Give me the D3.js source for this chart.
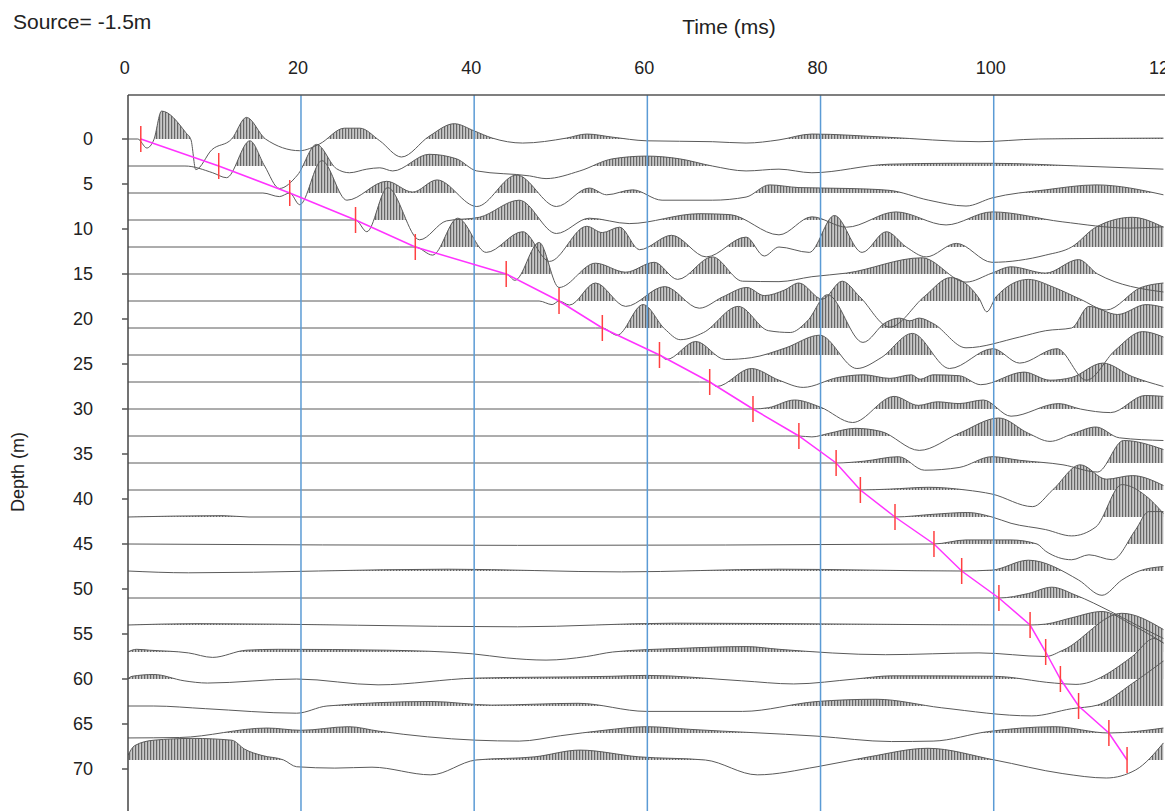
<!DOCTYPE html>
<html>
<head>
<meta charset="utf-8">
<script src="https://cdn.jsdelivr.net/npm/d3@7"></script>
<style>
  body { margin: 0; background: #fff; }
  text { font-family: Arial, "Liberation Sans", sans-serif; fill: #222; }
</style>
</head>
<body>
<svg id="chart" width="1165" height="811"></svg>
<script>
// Axis ticks
const timeTicks = [0, 20, 40, 60, 80, 100, 120];
const depthTicks = [0, 5, 10, 15, 20, 25, 30, 35, 40, 45, 50, 55, 60, 65, 70];

// Receiver depths (m), one trace each
const traceDepths = [0, 3, 6, 9, 12, 15, 18, 21, 24, 27, 30, 33, 36, 39, 42, 45, 48, 51, 54, 57, 60, 63, 66, 69];

// First-break picks (ms) for each receiver
const pickTimes = [1.5, 10.5, 18.7, 26.3, 33.2, 43.7, 49.8, 54.8, 61.4, 67.2, 72.2, 77.5, 81.8, 84.6, 88.6, 93.1, 96.3, 100.6, 104.2, 106.0, 107.7, 109.8, 113.3, 115.4];

// Wiggle traces: [time ms, amplitude in m of trace offset, positive up]
const trace00 = [[0,0],[1.15,0],[2.2,-1.0],[3.0,-0.1],[3.9,3.1],[6.7,0.7],[7.3,-0.1],[7.85,-3.4],[9.7,-1.2],[12.0,0],[13.7,2.4],[15.9,0],[19.85,-1.3],[22.15,-0.55],[25.0,1.2],[26.8,1.2],[29.1,-0.2],[31.6,-2.0],[34.8,0.3],[37.7,1.7],[40.0,0.9],[42.1,0.1],[45.6,-0.45],[50.65,0.1],[53.0,0.55],[56,0.2],[59.9,-0.2],[67.5,-0.3],[71.4,-0.45],[75.2,-0.1],[79,0.55],[87.6,0.2],[98.3,-0.3],[105.2,0],[119.6,0.1]];
const trace01 = [[0,0],[6.6,0],[9.8,-0.75],[11.4,-1.3],[14.1,2.8],[15.8,0],[17.5,-2.5],[19.6,-1.0],[21.8,2.4],[24.1,-0.3],[25.6,-0.75],[27.6,-0.35],[29.1,-0.2],[30.6,-0.55],[34.8,1.3],[37.95,0.8],[40.3,-0.55],[46.4,-1.1],[48.3,-1.4],[52.2,-0.55],[56,0.8],[59.9,1.1],[63.7,0.8],[67.5,0],[71.4,-0.55],[75.2,-0.35],[79,-0.75],[87.9,0.2],[95.2,0.3],[99.8,0.3],[109.8,0],[119.6,-0.35]];
const trace02 = [[0,0],[15.6,0],[17.5,-0.4],[18.7,0],[19.85,-1.3],[22.4,3.6],[25.3,-0.8],[29.9,1.3],[32.9,0.1],[35.7,1.45],[40.3,-1.5],[44.9,2.0],[49.5,-1.5],[53.3,0.55],[55.3,-0.2],[58.3,0.35],[61.7,-0.8],[67.5,-0.8],[71.4,-0.45],[74.1,0.9],[77.5,0.6],[83.3,0.5],[87.9,0.3],[92.5,-0.8],[96.8,-1.45],[99.8,-0.55],[106,0.35],[111.8,0.9],[119.6,-0.2]];
const trace03 = [[0,0],[24.5,0],[26.3,0],[27.6,-1.3],[30,3.6],[33.7,-2.2],[36.8,-0.1],[40.6,0.3],[45.2,2.2],[49.5,-1.5],[53.3,0.2],[57.9,-0.4],[66,0.7],[69.5,0.6],[75.2,-1.65],[79,0.35],[83,-0.8],[88.7,0.9],[94.5,-0.55],[99.8,0.9],[107.9,-0.2],[115.6,-0.9],[119.6,-0.75]];
const trace04 = [[0,0],[31.4,0],[33.2,0],[35.2,-0.9],[38.1,3.2],[41.4,-0.6],[45.6,1.7],[48.7,-1.6],[53,2.3],[54.8,1.6],[56.8,2.2],[59.1,-0.3],[62.8,1.3],[66.8,-1.1],[71.4,1.1],[73.5,-1.0],[75.2,0],[78.7,-0.6],[81.6,3.5],[84.8,-0.6],[87.6,1.7],[89.9,0],[92.2,-1.1],[95.7,0.4],[99.8,-1.7],[106,-0.9],[109,0],[111.8,2.2],[116,3.3],[119.6,2.2]];
const trace05 = [[0,0],[42.9,0],[43.7,0],[44.7,-0.7],[47.5,3.5],[49.8,-1.5],[54,1.2],[57.5,0.2],[60.8,1.3],[63.5,-0.6],[67.5,1.9],[71,-0.8],[75.2,-0.85],[79,-0.3],[83,0.1],[91.7,1.8],[96.8,-0.9],[99.8,0.1],[102,0.8],[106,0.1],[109.8,1.6],[112,0],[119.6,-2.0]];
const trace06 = [[0,0],[47.5,0],[49,-0.4],[49.8,0],[51,-0.45],[54,2.0],[57.5,-0.6],[62,1.6],[66,-0.8],[68.7,0.45],[71.5,1.5],[73.5,0.6],[75.8,1.2],[77.5,2.0],[80.2,0.2],[82.5,2.2],[84.5,0.5],[88,-2.9],[92,0.5],[95,2.6],[98.3,0.3],[99.2,-1.2],[100.3,0.5],[104,2.4],[107,1.5],[110,0.2],[113,-1.0],[117,1.5],[119.6,2.0]];
const trace07 = [[0,0],[54,0],[54.8,0],[56.5,-0.8],[59.5,2.6],[62,-0.1],[63.8,-1.3],[66.5,-0.5],[70.5,2.4],[74,-0.3],[76.5,-0.5],[78.5,0.8],[80.8,3.7],[84.9,-1.6],[87.5,0.6],[89.1,1.1],[90.3,0.8],[91.4,1.1],[93,0.5],[96.8,-2.2],[103,-1.0],[106,-0.3],[109,0],[111,2.4],[114.3,1.5],[117.6,2.6],[119.6,2.3]];
const trace08 = [[0,0],[60,0],[61.4,0],[62.2,-0.5],[65.6,1.5],[69,-0.5],[72,-0.3],[76,0.8],[79.9,2.2],[84.2,-1.5],[87,-0.3],[90.6,2.4],[94.9,-1.5],[99.9,0.7],[103,-0.9],[107.3,0.7],[110.7,-2.8],[114,0.5],[117.2,2.6],[119.6,2.0]];
const trace09 = [[0,0],[66,0],[67.2,0],[68,-0.5],[72,1.5],[75.2,0.2],[78,-0.6],[82,0.5],[85,0.8],[88,0.4],[90.5,0.8],[91.5,0.3],[93,0.8],[96,0.7],[98.5,-0.3],[103.5,1.1],[106.5,0.2],[109,0.5],[112.6,2.1],[116,0.6],[119.6,-0.5]];
const trace10 = [[0,0],[71,0],[72.2,0],[74,0.15],[77,1.0],[80,0.2],[83.7,-1.5],[88.5,1.4],[91.3,0.4],[93.5,0.8],[96,0.6],[98.8,1.0],[102,-0.8],[107.5,0.6],[110,0],[113.5,-0.4],[117.5,1.5],[119.6,1.4]];
const trace11 = [[0,0],[76,0],[77.5,0],[79,-0.1],[81,0.3],[84,0.85],[87,0.5],[91.4,-1.6],[96,0.3],[100.6,2.0],[104,0.3],[106.5,-0.6],[109,0.2],[111.8,1.0],[114.5,-0.2],[119.6,-0.5]];
const trace12 = [[0,0],[80,0],[81.8,0],[85,0.2],[89,0.7],[92,-0.8],[96,-0.5],[99.8,0.7],[103,0.3],[108,-0.2],[112,-1.0],[115,2.5],[119.6,1.5]];
const trace13 = [[0,0],[84.6,0],[88,0.1],[92.5,0.3],[96.8,0],[99.8,-0.45],[104.5,-1.85],[106.8,0],[110,2.8],[113,1.2],[116,1.6],[119.6,0.5]];
const trace14 = [[0,0],[11,0.15],[14,0],[88.6,0],[93,0.3],[97,0.5],[99.8,0],[102,-0.7],[106,-1.4],[109,-2.1],[111.8,-1.1],[114.8,3.6],[117.5,2.4],[119.6,0.4]];
const trace15 = [[0,0],[45,-0.15],[93.1,0],[96.8,0.45],[102,0.45],[105,0],[106,-0.8],[109,-1.75],[111,-1.2],[113.7,-1.75],[116.4,1.6],[117.9,3.6],[119.6,3.6]];
const trace16 = [[0,0],[7,-0.2],[37,0.2],[57,-0.1],[75.2,0.2],[96.3,0],[99.8,0.1],[104,1.2],[109.8,-1.0],[112.5,-2.7],[114.8,-1.0],[116.8,0],[119.6,0.5]];
const trace17 = [[0,0],[100.6,0],[104,0.5],[106.7,1.2],[109.5,0.3],[113.5,-1.5],[116.5,-3.0],[119.6,-4.5]];
const trace18 = [[0,0],[8,0.15],[45,-0.2],[63,0.2],[104.2,0],[106,0.1],[109,0.8],[112.5,1.5],[116,0],[119.6,-2.0]];
const trace19 = [[0,0],[1,0.3],[2.5,0.2],[7,-0.1],[9.8,-0.6],[13.7,0.2],[17.4,0.3],[29.9,0.2],[39.8,-0.2],[43.7,-0.65],[48.3,-0.9],[53,-0.5],[56,0],[63.7,0.4],[71.4,0.6],[75.2,0.3],[87.5,-0.3],[98.3,-0.1],[106,-0.5],[108,0.2],[114.8,4.3],[119.6,2.5]];
const trace20 = [[0,0],[0.5,0.3],[3.0,0.5],[6.5,-0.2],[9.2,-0.45],[19.5,0],[28.9,-0.65],[40.2,0.1],[55.9,0.3],[59.9,0.4],[70.9,-0.2],[76.9,-0.55],[84,0],[88.2,0.35],[100,0.3],[107,-0.45],[109.5,-0.6],[116,2.5],[118.5,4.5],[119.6,4.0]];
const trace21 = [[0,0],[3,0],[9,-0.3],[19.5,-0.8],[23,0],[35,0.5],[42,0.1],[52,0.3],[59.9,-0.6],[71,-0.6],[79.6,0.5],[86.4,0.75],[94,-0.2],[104.4,-1.1],[109,-0.3],[112,0.1],[116,2.5],[119.6,5.0]];
const trace22 = [[0,-0.55],[6,-0.5],[16.1,0.55],[20,0.3],[25.5,0.7],[29,0.2],[40.2,-0.8],[45.2,-0.9],[50,-0.3],[55,0.3],[59.9,0.7],[65,0.4],[79.6,-0.35],[88.2,-0.95],[93,-0.9],[99.3,0.15],[107,0.7],[113.3,0],[119.6,0.55]];
const trace23 = [[0,0.5],[0.8,1.6],[3,2.2],[7.5,2.4],[12,2.2],[13.5,1.2],[15.5,0.5],[18,0],[19.5,-0.75],[23.9,-0.9],[28.2,-0.8],[35,-1.65],[40.2,0],[47,0.35],[52.2,1.1],[59,0.35],[66.7,0],[72.7,-1.65],[79.6,-0.75],[85.6,0.35],[92.4,1.3],[100.1,0],[107.9,-1.5],[113,-2.0],[116.4,-1.1],[119.6,1.9]];

const traces = [trace00, trace01, trace02, trace03, trace04, trace05, trace06, trace07,
  trace08, trace09, trace10, trace11, trace12, trace13, trace14, trace15,
  trace16, trace17, trace18, trace19, trace20, trace21, trace22, trace23];

const W = 1165, H = 811;
const plotLeft = 128, plotTop = 95;
const svg = d3.select("#chart");

const x = d3.scaleLinear().domain([0, 120]).range([127.8, 1166.9]);
const y = d3.scaleLinear().domain([0, 70]).range([139, 769]);

const defs = svg.append("defs");
const hatch = defs.append("pattern")
  .attr("id", "hatch").attr("patternUnits", "userSpaceOnUse")
  .attr("width", 3).attr("height", 8);
hatch.append("rect").attr("width", 3).attr("height", 8).attr("fill", "#c8c8c8");
hatch.append("rect").attr("width", 1.2).attr("height", 8).attr("fill", "#666");

defs.append("clipPath").attr("id", "plotClip")
  .append("rect").attr("x", plotLeft).attr("y", plotTop)
  .attr("width", W - plotLeft).attr("height", H - plotTop);

traces.forEach((tr, i) => {
  defs.append("clipPath").attr("id", "pos" + i)
    .append("rect").attr("x", plotLeft).attr("y", 0)
    .attr("width", W - plotLeft).attr("height", y(traceDepths[i]));
});

const plot = svg.append("g").attr("clip-path", "url(#plotClip)");

// positive lobes: hatched fill between the trace and its zero line
const fills = plot.append("g");
traces.forEach((tr, i) => {
  const d0 = traceDepths[i];
  const area = d3.area()
    .x(d => x(d[0]))
    .y0(y(d0))
    .y1(d => y(d0 - d[1]))
    .curve(d3.curveMonotoneX);
  fills.append("g").attr("clip-path", "url(#pos" + i + ")")
    .append("path").attr("d", area(tr)).attr("fill", "url(#hatch)");
});

// wiggle lines
const lines = plot.append("g");
traces.forEach((tr, i) => {
  const d0 = traceDepths[i];
  const line = d3.line()
    .x(d => x(d[0]))
    .y(d => y(d0 - d[1]))
    .curve(d3.curveMonotoneX);
  lines.append("path").attr("d", line(tr))
    .attr("fill", "none").attr("stroke", "#5a5a5a").attr("stroke-width", 1);
});

// vertical time grid
plot.append("g").selectAll("line")
  .data(timeTicks.filter(t => t > 0 && t < 120))
  .join("line")
  .attr("x1", d => x(d)).attr("x2", d => x(d))
  .attr("y1", plotTop).attr("y2", H)
  .attr("stroke", "#5b9bd5").attr("stroke-width", 1.5);

// first-break curve and picks
const pickPts = pickTimes.map((t, i) => [t, traceDepths[i]]);
plot.append("path")
  .attr("d", d3.line().x(d => x(d[0])).y(d => y(d[1]))(pickPts))
  .attr("fill", "none").attr("stroke", "#ff33ff").attr("stroke-width", 1.5);
plot.append("g").selectAll("line").data(pickPts).join("line")
  .attr("x1", d => x(d[0])).attr("x2", d => x(d[0]))
  .attr("y1", d => y(d[1]) - 13).attr("y2", d => y(d[1]) + 13)
  .attr("stroke", "#ff4040").attr("stroke-width", 1.5);

// frame
svg.append("line").attr("x1", plotLeft).attr("x2", W).attr("y1", plotTop).attr("y2", plotTop)
  .attr("stroke", "#555").attr("stroke-width", 1.5);
svg.append("line").attr("x1", plotLeft).attr("x2", plotLeft).attr("y1", plotTop).attr("y2", H)
  .attr("stroke", "#444").attr("stroke-width", 1.5);

// depth axis
const yAxis = svg.append("g");
yAxis.selectAll("line").data(depthTicks).join("line")
  .attr("x1", plotLeft - 6).attr("x2", plotLeft)
  .attr("y1", d => y(d)).attr("y2", d => y(d))
  .attr("stroke", "#555").attr("stroke-width", 1.5);
yAxis.selectAll("text").data(depthTicks).join("text")
  .attr("x", 93).attr("y", d => y(d)).attr("dy", "0.35em")
  .attr("text-anchor", "end").attr("font-size", 18)
  .text(d => d);

// time axis labels along the top
svg.append("g").selectAll("text").data(timeTicks).join("text")
  .attr("x", d => x(d) - 3).attr("y", 74)
  .attr("text-anchor", "middle").attr("font-size", 18)
  .text(d => d);

svg.append("text").attr("x", 729).attr("y", 34).attr("text-anchor", "middle")
  .attr("font-size", 21).text("Time (ms)");
svg.append("text").attr("x", 13).attr("y", 29).attr("font-size", 21).text("Source= -1.5m");
svg.append("text").attr("transform", "translate(24,472) rotate(-90)")
  .attr("text-anchor", "middle").attr("font-size", 18).text("Depth (m)");
</script>
</body>
</html>
